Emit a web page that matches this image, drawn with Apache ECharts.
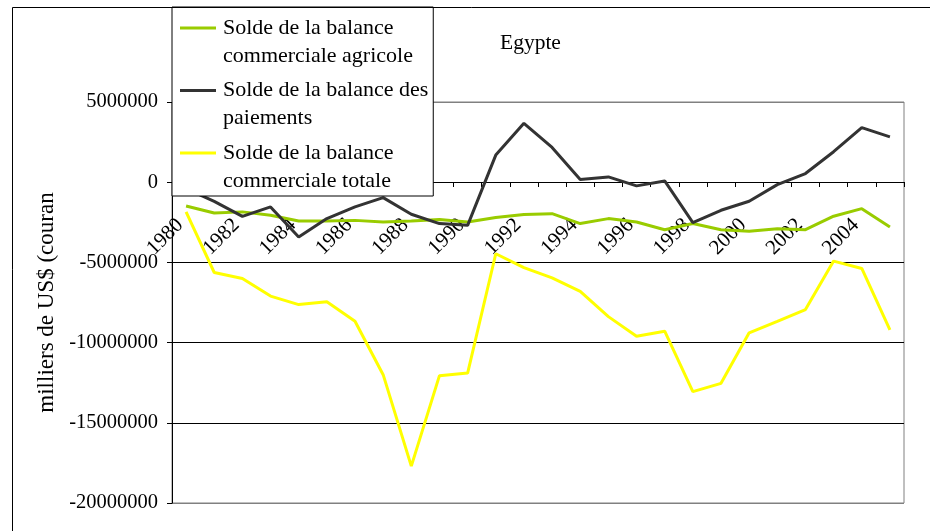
<!DOCTYPE html>
<html>
<head>
<meta charset="utf-8">
<script src="https://cdn.jsdelivr.net/npm/echarts@6/dist/echarts.min.js"></script>
<style>
  html, body { margin: 0; padding: 0; background: #fff; }
  #chart { width: 930px; height: 531px; }
</style>
</head>
<body>
<div id="chart"></div>
<script>
// années 1980 - 2005
var years = ['1980', '1981', '1982', '1983', '1984', '1985', '1986', '1987', '1988', '1989',
  '1990', '1991', '1992', '1993', '1994', '1995', '1996', '1997', '1998', '1999',
  '2000', '2001', '2002', '2003', '2004', '2005'];

// milliers de US$
var agricole = [-1480000, -1920000, -1850000, -2060000, -2420000, -2420000, -2380000, -2480000, -2420000, -2330000,
  -2480000, -2200000, -2020000, -1960000, -2580000, -2270000, -2480000, -2960000, -2580000, -2960000,
  -3060000, -2900000, -2960000, -2120000, -1650000, -2790000];
var paiements = [-400000, -1200000, -2130000, -1540000, -3420000, -2270000, -1540000, -960000, -2000000, -2580000,
  -2690000, 1690000, 3670000, 2170000, 170000, 330000, -230000, 80000, -2520000, -1750000,
  -1190000, -150000, 540000, 1900000, 3400000, 2830000];
var totale = [-1850000, -5630000, -6000000, -7100000, -7630000, -7460000, -8670000, -12000000, -17700000, -12060000,
  -11900000, -4460000, -5330000, -5960000, -6810000, -8380000, -9600000, -9290000, -13060000, -12540000,
  -9390000, -8670000, -7940000, -4920000, -5380000, -9210000];

var seriesNames = ['Solde de la balance\ncommerciale agricole', 'Solde de la balance des\npaiements', 'Solde de la balance\ncommerciale totale'];
var seriesColors = ['#99cc00', '#333333', '#ffff00'];

var font = 'Liberation Serif';
var chartDom = document.getElementById('chart');
var myChart = echarts.init(chartDom);
var option;

// trait de légende placé sur la première ligne du texte
var legendIcon = 'path://M0,0h0.01v0.01h-0.01z M0,12.5h36v3h-36z M0,55.99h0.01v0.01h-0.01z';

option = {
  animation: false,
  backgroundColor: '#fff',
  title: {
    text: 'Egypte',
    left: 500,
    top: 32,
    padding: 0,
    textStyle: { fontFamily: font, fontSize: 21.5, fontWeight: 'normal', color: '#000' }
  },
  legend: {
    orient: 'vertical',
    left: 172,
    top: 7,
    padding: [7, 5, 1, 8],
    itemGap: 6.5,
    itemWidth: 36,
    itemHeight: 56,
    icon: legendIcon,
    itemStyle: { borderWidth: 0 },
    backgroundColor: '#fff',
    borderColor: '#000',
    borderWidth: 1,
    borderRadius: 0,
    selectedMode: false,
    textStyle: { fontFamily: font, fontSize: 22, lineHeight: 28, color: '#000', padding: [0, 0, 0, 2] },
    data: seriesNames
  },
  grid: {
    left: 172,
    top: 102,
    right: 26,
    bottom: 28,
    show: true,
    borderColor: '#808080',
    borderWidth: 1,
    outerBoundsMode: 'none'
  },
  xAxis: {
    type: 'category',
    data: years,
    boundaryGap: true,
    position: 'bottom',
    // axe placé sur la ligne du zéro
    offset: -321,
    axisLine: { onZero: false, lineStyle: { color: '#000', width: 1 } },
    axisTick: { show: true, length: 5, interval: 0, lineStyle: { color: '#000' } },
    axisLabel: {
      interval: 1,
      rotate: 45,
      margin: 34,
      padding: [0, 8.5, 17, 0],
      fontFamily: font,
      fontSize: 21,
      color: '#000'
    },
    splitLine: { show: false }
  },
  yAxis: {
    type: 'value',
    min: -20000000,
    max: 5000000,
    interval: 5000000,
    name: 'milliers de US$ (couran',
    nameLocation: 'middle',
    nameRotate: 90,
    nameGap: 114,
    nameTextStyle: { fontFamily: font, fontSize: 23, color: '#000' },
    axisLine: { show: true, lineStyle: { color: '#000', width: 1 } },
    axisTick: { show: true, length: 5, lineStyle: { color: '#000' } },
    axisLabel: {
      margin: 14,
      fontFamily: font,
      fontSize: 20.5,
      color: '#000',
      formatter: function (v) { return String(v); }
    },
    splitLine: {
      show: true,
      lineStyle: { color: ['#808080', '#000', '#000', '#000', '#000', '#808080'], width: 1 }
    }
  },
  graphic: [
    {
      type: 'rect',
      silent: true,
      z: 100,
      shape: { x: 12.5, y: 7.5, width: 1000, height: 1000 },
      style: { fill: 'none', stroke: '#000', lineWidth: 1 }
    }
  ],
  series: [
    {
      name: seriesNames[0],
      type: 'line',
      data: agricole,
      showSymbol: false,
      color: seriesColors[0],
      lineStyle: { width: 3, color: seriesColors[0] }
    },
    {
      name: seriesNames[1],
      type: 'line',
      data: paiements,
      showSymbol: false,
      color: seriesColors[1],
      lineStyle: { width: 3, color: seriesColors[1] }
    },
    {
      name: seriesNames[2],
      type: 'line',
      data: totale,
      showSymbol: false,
      color: seriesColors[2],
      lineStyle: { width: 3, color: seriesColors[2] }
    }
  ]
};

option && myChart.setOption(option);
</script>
</body>
</html>
